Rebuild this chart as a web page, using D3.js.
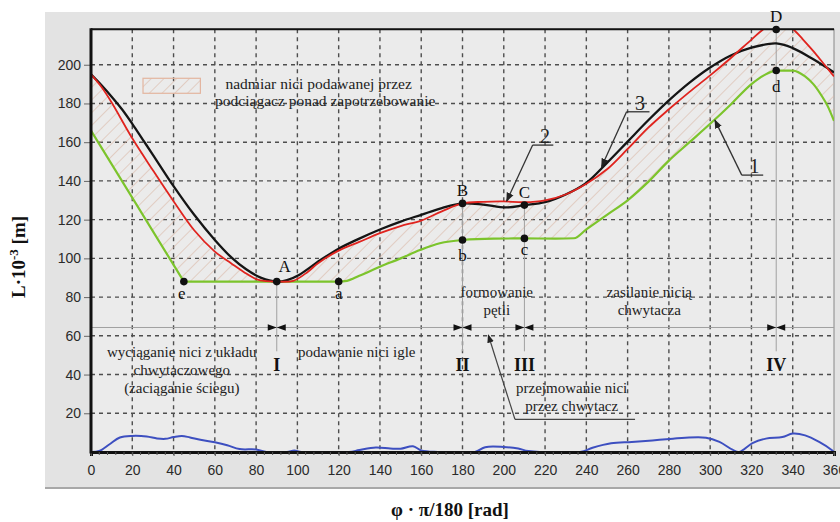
<!DOCTYPE html>
<html><head><meta charset="utf-8">
<script src="https://cdn.jsdelivr.net/npm/d3@7"></script>
<style>body{margin:0;background:#fff}svg{display:block}</style>
</head><body><svg id="c" width="840" height="522"></svg>
<script>
// ---------------- data ----------------
const xTicks = d3.range(0, 361, 20);
const yTicks = d3.range(20, 201, 20);
const xMinorTicks = d3.range(0, 361, 4);

// curve 1 (green) – thread demand: straight falling part, then smooth part
const curve1Fall = [[0,166],[45,88]];
const curve1 = [[45,88],[120,88],[124,88.4],[130,91],[140,95.7],[150,100],[159.4,104.3],[169,107.8],[180,109.5],[195,110.2],[210,110.3],[225,110.2],[234,110.4],[240,115],[250,122.5],[260,130],[270,139.5],[280,150.5],[290,160],[300,169.5],[310,179.5],[320,190],[326,194.5],[332,197],[340,197],[346,194],[350,190],[354,184],[357,178.5],[360,171]];
// curve 2 (red) – take-up delivery
const curve2 = [[0,195],[5,188.6],[10,180.5],[20,162],[30,145.5],[40,129.5],[50,114.5],[60,103.5],[68,97.4],[74,93],[80,89.3],[85,88.2],[90,88],[98,88.4],[105,93],[110,97.5],[120,104],[130,108.5],[140,113],[150,116.7],[160,119.5],[170,124.3],[180,128.4],[190,129.2],[200,129.4],[210,129],[220,130],[230,133],[240,138.5],[250,146],[260,156.5],[270,167.5],[280,177],[290,186],[300,194.5],[310,203.5],[320,213],[326,218.5],[333,222.5],[340,218.5],[345,213],[350,207],[355,200.5],[360,194]];
// curve 3 (black)
const curve3 = [[0,195],[5,189.5],[10,183.5],[15,177],[20,169.5],[25,161.5],[30,153.5],[40,137.3],[50,122.5],[60,109.5],[68,100.5],[75,94.5],[82.5,89.9],[90,88],[95,88.8],[101,91.6],[111,99],[120,105],[130,110.2],[140,114.9],[150,119],[160,122.5],[170,126],[180,128.4],[190,127.8],[201,126.3],[210,127.5],[220,129],[230,133],[240,139],[250,149.3],[260,160.3],[270,171.3],[280,181.6],[290,190.8],[300,198.6],[310,204.8],[320,208.8],[332,211],[340,208.6],[350,202.8],[360,196]];
// blue – difference near the axis
const curveBlue = [[0,0],[4,0.5],[9,4],[14,7.5],[20,8.3],[27,8],[32,7],[36,6.8],[40,7.7],[44,8.3],[48,7.5],[53,6.3],[60,5],[66,3.5],[72,1.5],[80,1.3],[85,0],[95,0],[98.5,0.8],[102,0],[125,0],[130,1],[138,2.3],[145,1.8],[150,1.7],[156,3],[160,0.8],[168,0],[186,0],[191,2.5],[200,2.6],[207,1.8],[212,0.5],[237,0],[243,2.2],[252,4.5],[262,5.2],[272,6],[282,6.9],[288,7.4],[298,7.4],[304.5,5.2],[310.8,1.2],[314,0],[320.5,4.6],[327,6.9],[335,7.7],[340,9.5],[346,8.6],[352.8,5.2],[359.2,0.8],[360,0]];

const upperPoints = [{n:"A",phi:90,L:88},{n:"B",phi:180,L:128.4},{n:"C",phi:210,L:127.5},{n:"D",phi:332,L:218.2}];
const lowerPoints = [{n:"e",phi:45,L:88},{n:"a",phi:120,L:88},{n:"b",phi:180,L:109.5},{n:"c",phi:210,L:110.3},{n:"d",phi:332,L:197}];
const phaseMarks = [{t:"I",phi:90,top:88},{t:"II",phi:180,top:128.4},{t:"III",phi:210,top:127.5},{t:"IV",phi:332,top:218.2}];
const phaseLineL = 64.3, phaseBottomL = 52, romanL = 41.8;

const notes = [
  {lines:["wyciąganie nici z układu","chwytaczowego","(zaciąganie ściegu)"],phi:44,L:49,anchor:"middle"},
  {lines:["podawanie nici igle"],phi:100.3,L:49,anchor:"start"},
  {lines:["formowanie","pętli"],phi:196.6,L:80,anchor:"middle"},
  {lines:["zasilanie nicią","chwytacza"],phi:270.5,L:80,anchor:"middle"},
  {lines:["przejmowanie nici","przez chwytacz"],phi:232.9,L:30.5,anchor:"middle"}
];
const legendLines = ["nadmiar nici podawanej przez","podciągacz ponad zapotrzebowanie"];
// numbered leaders: underline span, its level, and the tip on the curve
const leaders = [
  {t:"2",u0:214,u1:224,uL:158.5,tip:[201.4,129.6]},
  {t:"3",u0:259.5,u1:270.6,uL:175.7,tip:[247.4,147.3]},
  {t:"1",u0:315.3,u1:325.7,uL:143,tip:[302.3,171.4]}
];
const takeoverArrow = {u0:205.4,u1:263.6,uL:16.9,tip:[192.5,60.4]};

// ---------------- drawing ----------------
const svg = d3.select("#c");
const x = d3.scaleLinear().domain([0,360]).range([91,834]);
const y = d3.scaleLinear().domain([0,218.3]).range([452,29.3]);
const serif = "'Liberation Serif','Times New Roman',serif";
const sans = "'Liberation Sans',Arial,sans-serif";

const defs = svg.append("defs");
const pat = defs.append("pattern").attr("id","hatch").attr("patternUnits","userSpaceOnUse")
  .attr("width",9).attr("height",9).attr("patternTransform","rotate(45)");
pat.append("line").attr("x1",0).attr("y1",0).attr("x2",0).attr("y2",9)
  .attr("stroke","#d9b3a2").attr("stroke-width",1.1);
defs.append("clipPath").attr("id","plotclip").append("rect")
  .attr("x",x(0)).attr("y",y(218.3)).attr("width",x(360)-x(0)).attr("height",y(0)-y(218.3));
const cvG = d3.curveMonotoneX;
const cvS = d3.curveCatmullRom.alpha(0.5);
const aboveArea = c => d3.area().x(d=>x(d[0])).y0(0).y1(d=>y(d[1])).curve(c);
const cpG = defs.append("clipPath").attr("id","aboveGreen");
cpG.append("path").attr("d", aboveArea(d3.curveLinear)(curve1Fall));
cpG.append("path").attr("d", aboveArea(cvG)(curve1));
defs.append("marker").attr("id","arr").attr("viewBox","0 0 10 10").attr("refX",9).attr("refY",5)
  .attr("markerWidth",7).attr("markerHeight",7).attr("orient","auto-start-reverse")
  .append("path").attr("d","M0,1 L10,5 L0,9 z").attr("fill","#222");

// background panel
svg.append("rect").attr("x",45).attr("y",12).attr("width",795).attr("height",476).attr("fill","#e3e3e3");
svg.append("line").attr("x1",45).attr("x2",840).attr("y1",488).attr("y2",488).attr("stroke","#a8a8a8").attr("stroke-width",2);
svg.append("rect").attr("x",x(0)).attr("y",y(218.3)).attr("width",x(360)-x(0)).attr("height",y(0)-y(218.3))
  .attr("fill","#ebebeb").attr("stroke","#888").attr("stroke-width",1);

// grid
const grid = svg.append("g").attr("stroke","#4e4e4e").attr("stroke-width",1.4).attr("stroke-dasharray","4,4");
grid.selectAll(".gx").data(xTicks.slice(1,-1)).join("line")
  .attr("x1",d=>x(d)).attr("x2",d=>x(d)).attr("y1",y(218.3)).attr("y2",y(0));
grid.selectAll(".gy").data(yTicks).join("line")
  .attr("y1",d=>y(d)).attr("y2",d=>y(d)).attr("x1",x(0)).attr("x2",x(360));

const plot = svg.append("g").attr("clip-path","url(#plotclip)");
// hatch area between green (demand) and red (delivery)
plot.append("g").attr("clip-path","url(#aboveGreen)").append("path")
  .attr("d", d3.area().x(d=>x(d[0])).y0(y(0)).y1(d=>y(d[1])).curve(cvS)(curve2))
  .attr("fill","url(#hatch)");

// phase guide lines
plot.append("line").attr("x1",x(0)).attr("x2",x(360)).attr("y1",y(phaseLineL)).attr("y2",y(phaseLineL))
  .attr("stroke","#a0a0a0").attr("stroke-width",1);
plot.selectAll(".vl").data(phaseMarks).join("line")
  .attr("x1",d=>x(d.phi)).attr("x2",d=>x(d.phi)).attr("y1",d=>y(d.top)).attr("y2",y(phaseBottomL))
  .attr("stroke","#a0a0a0").attr("stroke-width",1);

const lineL = d3.line().x(d=>x(d[0])).y(d=>y(d[1]));
const lineG = d3.line().x(d=>x(d[0])).y(d=>y(d[1])).curve(cvG);
const lineS = d3.line().x(d=>x(d[0])).y(d=>y(d[1])).curve(cvS);
plot.append("path").attr("d",lineS(curveBlue)).attr("fill","none").attr("stroke","#3d4fc0").attr("stroke-width",2);
plot.append("path").attr("d",lineL(curve1Fall)+lineG(curve1).replace(/^M/,"L")).attr("fill","none")
  .attr("stroke","#7cc42c").attr("stroke-width",2.2).attr("stroke-linejoin","round");
plot.append("path").attr("d",lineS(curve3)).attr("fill","none").attr("stroke","#151515").attr("stroke-width",2.3);
plot.append("path").attr("d",lineS(curve2)).attr("fill","none").attr("stroke","#e0241f").attr("stroke-width",1.8);

// bowtie markers
const bt = svg.append("g");
phaseMarks.forEach(d=>{
  const cx = x(d.phi), cy = y(phaseLineL);
  bt.append("path").attr("d",`M${cx-9},${cy-3.2} L${cx},${cy} L${cx-9},${cy+3.2} Z M${cx+9},${cy-3.2} L${cx},${cy} L${cx+9},${cy+3.2} Z`)
    .attr("fill","#111");
});
svg.selectAll(".rom").data(phaseMarks).join("text")
  .attr("x",d=>x(d.phi)).attr("y",y(romanL)).attr("text-anchor","middle")
  .attr("font-family",serif).attr("font-weight","bold").attr("font-size",18).attr("fill","#111").text(d=>d.t);

// axes frame
svg.append("line").attr("x1",x(0)).attr("x2",x(360)).attr("y1",y(218.3)).attr("y2",y(218.3)).attr("stroke","#111").attr("stroke-width",2);

const ax = svg.append("g").attr("transform",`translate(0,${y(0)})`)
  .call(d3.axisBottom(x).tickValues(xTicks).tickSize(4).tickPadding(9).tickFormat(d3.format("d")));
ax.select(".domain").attr("stroke","#111").attr("stroke-width",3);
ax.selectAll("text").attr("font-family",sans).attr("font-size",14).attr("fill","#2a2a2a");
ax.selectAll(".tick line").attr("stroke","#555");
svg.append("g").selectAll("line").data(xMinorTicks).join("line")
  .attr("x1",d=>x(d)).attr("x2",d=>x(d)).attr("y1",y(0)).attr("y2",y(0)+3).attr("stroke","#555").attr("stroke-width",1);

const ay = svg.append("g").attr("transform",`translate(${x(0)},0)`)
  .call(d3.axisLeft(y).tickValues(yTicks).tickSize(7).tickPadding(3));
ay.select(".domain").remove();
ay.selectAll("text").attr("font-family",sans).attr("font-size",14).attr("fill","#2a2a2a");
ay.selectAll(".tick line").attr("stroke","#666");
svg.append("line").attr("x1",x(0)).attr("x2",x(0)).attr("y1",y(218.3)-1).attr("y2",y(0)+1.5).attr("stroke","#111").attr("stroke-width",3);

// points
svg.selectAll(".pt").data(upperPoints.concat(lowerPoints)).join("circle")
  .attr("cx",d=>x(d.phi)).attr("cy",d=>y(d.L)).attr("r",3.8).attr("fill","#111");
svg.selectAll(".up").data(upperPoints).join("text")
  .attr("x",d=>x(d.phi)+(d.n==="A"?8:0)).attr("y",d=>y(d.L)-(d.n==="A"?10:7)).attr("text-anchor","middle")
  .attr("font-family",serif).attr("font-size",17).attr("fill","#111").text(d=>d.n);
svg.selectAll(".lo").data(lowerPoints).join("text")
  .attr("x",d=>x(d.phi)-(d.n==="e"?2:0)).attr("y",d=>y(d.L)+(/[bd]/.test(d.n)?21:17)).attr("text-anchor","middle")
  .attr("font-family",serif).attr("font-size",17).attr("fill","#111").text(d=>d.n);

// notes
notes.forEach(n=>{
  n.lines.forEach((t,i)=>{
    svg.append("text").attr("x",x(n.phi)).attr("y",y(n.L)+i*18).attr("text-anchor",n.anchor)
      .attr("font-family",serif).attr("font-size",15).attr("fill","#222").text(t);
  });
});

// legend
svg.append("rect").attr("x",x(25.2)).attr("y",y(193)).attr("width",x(53)-x(25.2)).attr("height",15)
  .attr("fill","url(#hatch)").attr("stroke","#e3b59f").attr("stroke-width",1.2);
legendLines.forEach((t,i)=>{
  svg.append("text").attr("x",x(i?113.5:110.3)).attr("y",y(187.5)+i*17).attr("text-anchor","middle")
    .attr("font-family",serif).attr("font-size",15.5).attr("fill","#222").text(t);
});

// leaders
leaders.forEach(d=>{
  svg.append("line").attr("x1",x(d.u0)).attr("x2",x(d.u1)).attr("y1",y(d.uL)).attr("y2",y(d.uL)).attr("stroke","#333").attr("stroke-width",1.3);
  svg.append("line").attr("x1",x(d.u0)).attr("y1",y(d.uL)).attr("x2",x(d.tip[0])).attr("y2",y(d.tip[1]))
    .attr("stroke","#333").attr("stroke-width",1.3).attr("marker-end","url(#arr)");
  svg.append("text").attr("x",(x(d.u0)+x(d.u1))/2+2).attr("y",y(d.uL)-2).attr("text-anchor","middle")
    .attr("font-family",serif).attr("font-size",20).attr("fill","#222").text(d.t);
});
svg.append("line").attr("x1",x(takeoverArrow.u0)).attr("x2",x(takeoverArrow.u1)).attr("y1",y(takeoverArrow.uL)).attr("y2",y(takeoverArrow.uL)).attr("stroke","#444").attr("stroke-width",1.2);
svg.append("line").attr("x1",x(takeoverArrow.u0)).attr("y1",y(takeoverArrow.uL)).attr("x2",x(takeoverArrow.tip[0])).attr("y2",y(takeoverArrow.tip[1]))
  .attr("stroke","#444").attr("stroke-width",1.2).attr("marker-end","url(#arr)");

// axis titles
svg.append("text").attr("x",450).attr("y",516).attr("text-anchor","middle")
  .attr("font-family",serif).attr("font-weight","bold").attr("font-size",19).attr("fill","#111")
  .text("φ · π/180 [rad]");
const yt = svg.append("text").attr("transform","translate(25,257) rotate(-90)").attr("text-anchor","middle")
  .attr("font-family",serif).attr("font-weight","bold").attr("font-size",19).attr("fill","#111");
yt.append("tspan").text("L·10");
yt.append("tspan").attr("dy",-7).attr("font-size",13).text("-3");
yt.append("tspan").attr("dy",7).text(" [m]");
</script></body></html>
